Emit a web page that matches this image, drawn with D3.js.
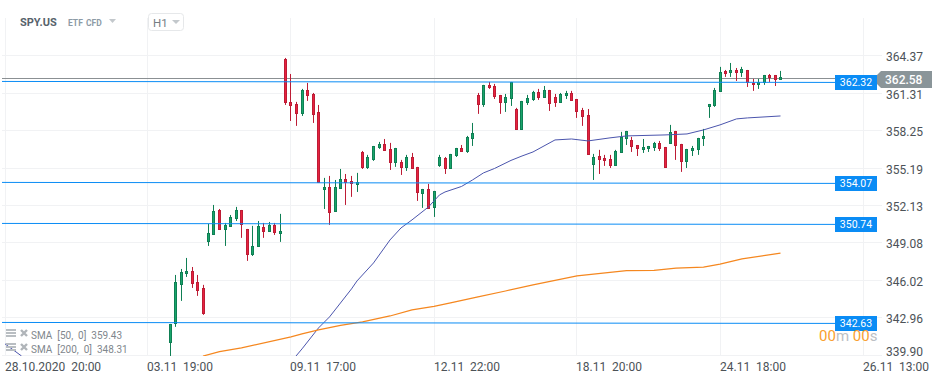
<!DOCTYPE html>
<html>
<head>
<meta charset="utf-8">
<script src="https://cdn.jsdelivr.net/npm/d3@7"></script>
<style>
    body { margin: 0; background: #fff; }
    svg { display: block; font-family: Roboto, sans-serif; }
</style>
</head>
<body>
<div id="chart"></div>
<script>
// first candle sits on bar 30 of the time axis
const firstBar = 30;
const opens = [340.98,342.53,345.72,346.61,346.86,345.96,345.47,349.23,349.80,351.84,350.21,350.45,351.11,351.84,350.29,348.17,348.82,350.45,350.05,350.62,349.88,
    364.18,360.67,360.50,359.69,361.65,361.32,359.85,353.48,353.72,351.68,353.56,354.38,354.21,353.89,356.58,355.27,355.93,356.91,357.24,356.83,355.68,355.76,355.27,356.17,355.36,353.15,353.56,352.01,
    355.44,356.09,355.19,356.25,356.91,356.58,357.64,361.24,360.42,362.06,361.97,361.24,360.59,360.91,360.09,358.38,360.59,360.83,361.48,360.99,361.65,361.08,360.59,361.16,361.40,360.91,360.01,359.60,
    355.52,356.25,356.09,356.01,355.44,356.50,357.64,357.56,357.15,356.75,356.83,356.91,357.32,356.99,357.24,358.30,357.24,355.76,356.66,356.75,357.64,360.26,360.34,361.48,
    363.20,363.04,363.28,363.04,363.28,362.22,362.06,362.22,362.87,362.87,362.46];
const highs = [342.53,346.53,347.02,347.92,347.18,346.53,345.72,350.70,352.25,351.92,350.78,351.43,352.09,351.84,350.29,350.54,350.94,350.78,350.86,350.78,351.52,
    364.26,362.95,360.67,361.73,362.22,361.40,360.42,354.46,354.62,354.29,355.19,354.78,354.62,354.87,356.66,356.34,357.07,357.40,357.64,357.32,356.91,355.93,356.34,356.50,355.36,353.56,353.97,353.40,
    356.34,356.17,356.42,356.91,357.15,357.89,358.95,361.40,362.06,362.30,362.14,361.24,361.32,362.30,360.18,360.75,361.24,361.57,361.73,361.97,361.65,361.32,361.40,361.57,361.57,360.91,360.18,360.09,
    356.42,356.75,356.34,356.34,356.75,358.22,358.30,357.81,357.15,357.64,357.07,357.40,357.48,356.99,358.79,358.30,357.24,356.83,357.07,357.73,358.46,360.50,361.81,363.53,
    363.28,363.85,363.44,363.53,363.28,362.55,362.55,362.87,362.95,362.87,363.20];
const lows = [339.91,342.29,344.41,346.37,345.47,344.82,343.27,348.90,349.80,350.21,348.90,350.45,350.94,349.56,347.68,348.08,348.82,349.56,350.05,349.80,349.23,
    360.42,359.11,358.71,359.52,360.75,358.95,354.05,351.92,350.62,351.68,353.56,352.25,352.91,353.31,355.19,355.19,355.85,356.83,356.66,355.11,355.36,354.70,355.03,355.19,352.58,352.01,351.92,351.27,
    355.36,354.78,355.19,356.17,356.58,356.50,357.07,359.69,360.26,361.73,360.91,359.69,359.85,360.34,358.38,358.38,360.42,360.75,360.83,360.99,359.93,360.26,360.59,360.91,360.75,359.36,358.71,356.34,
    354.29,354.78,355.44,355.27,355.44,356.50,357.15,356.58,356.25,356.50,356.58,356.66,356.66,355.27,357.24,355.93,354.95,355.27,356.25,356.34,357.07,359.36,360.26,361.48,
    362.71,362.71,362.38,362.71,361.89,361.57,361.73,362.06,362.30,361.97,362.46];
const closes = [342.53,345.96,346.78,346.86,345.80,345.22,343.35,349.96,351.76,350.21,350.62,351.27,351.84,350.62,348.17,348.90,350.54,350.05,350.62,349.96,350.13,
    360.59,360.34,359.69,361.65,361.16,359.60,354.05,353.72,351.60,353.72,354.38,354.05,353.97,354.13,355.27,356.17,357.07,357.24,356.66,355.68,356.91,355.27,356.17,355.19,353.23,353.56,351.92,353.40,
    356.17,355.19,356.42,356.91,356.58,357.81,358.13,360.42,362.06,361.81,361.08,360.59,361.08,362.30,358.38,360.75,360.99,361.48,360.99,361.65,360.50,360.59,361.32,361.40,360.75,359.85,359.44,356.34,
    356.17,355.93,355.85,355.44,356.66,357.81,358.30,356.99,356.83,356.99,357.07,357.32,356.83,355.27,358.22,357.07,355.76,356.83,356.91,357.73,357.89,360.50,361.65,363.12,
    362.95,363.28,363.04,363.36,362.22,362.06,362.30,362.87,362.63,362.46,362.71];

// moving averages, read at a few bars only; between bars 3 and 54 the SMA50 runs below the plot
const sma50Bars = [0,3,10,45,52,54,57,59,60,63,64,67,70,72,74,77,79,80,83,85,87,89,92,94,96,98,100,103,106,110,113,120,124,127,130,133,135,138,141];
const sma50Values = [340.90,339.91,335,335,339.42,340.49,342.20,343.10,343.67,345.39,346.04,347.51,349.39,350.37,351.03,352.09,353.07,353.31,353.76,354.29,354.87,355.23,355.89,356.25,356.58,357.07,357.56,357.64,357.48,357.73,357.89,357.97,358.05,358.38,358.79,359.28,359.36,359.44,359.52];
const sma200Bars = [36,39,43,52,54,57,61,65,70,74,78,81,86,91,96,104,113,118,122,127,130,134,141];
const sma200Values = [339.90,340.27,340.57,341.47,341.71,342.04,342.41,342.69,343.18,343.67,343.96,344.25,344.74,345.22,345.72,346.45,346.88,346.91,347.08,347.17,347.41,347.84,348.31];

const priceTicks = [364.37,361.31,358.25,355.19,352.13,349.08,346.02,342.96,339.90];
const timeBars = [0,26,52,78,104,130,156];
const timeLabels = ['28.10.2020  20:00','03.11  19:00','09.11  17:00','12.11  22:00','18.11  20:00','24.11  18:00','26.11  13:00'];

// blue levels are very slightly tilted, the label is the printed value
const levelLabels = [362.32,354.07,350.74,342.63];
const levelStart = [362.34,354.09,350.74,342.65];
const levelEnd = [362.26,354.01,350.66,342.57];
const lastPrice = 362.58;

const legendLabels = ['SMA  [50,  0]  359.43','SMA  [200,  0]  348.31'];

const width = 945, height = 381;
const blue = '#0a8cf5', gridColor = '#f1f2f4', axisText = '#4c5257';

const x = d3.scaleLinear().domain([0, 156]).range([5, 863]);
const y = d3.scaleLinear().domain([339.90, 364.37]).range([356.1, 56.6]);

const svg = d3.select('#chart').append('svg')
    .attr('width', width)
    .attr('height', height);

svg.append('clipPath').attr('id', 'plot')
    .append('rect').attr('x', 0).attr('y', 0).attr('width', 880).attr('height', 356);

// Y axis, gridlines come from the ticks
const yAxis = svg.append('g')
    .attr('transform', 'translate(882,0)')
    .call(d3.axisRight(y).tickValues(priceTicks).tickFormat(d3.format('.2f')).tickSize(-880).tickPadding(4));
yAxis.select('.domain').remove();
yAxis.selectAll('.tick').attr('transform', d => `translate(0,${Math.round(y(d) - 1.3) + 0.5})`);
yAxis.selectAll('line').attr('stroke', gridColor);
yAxis.selectAll('text')
    .attr('font-size', 12).attr('font-family', 'Roboto').attr('fill', axisText).attr('dy', '0.42em')
    .attr('y', d => d === 339.90 ? -5 : 0); // bottom label is pushed up above the time axis

// X axis
const xAxis = svg.append('g')
    .attr('transform', 'translate(0,356)')
    .call(d3.axisBottom(x).tickValues(timeBars).tickFormat((d, i) => timeLabels[i]).tickSize(-338).tickPadding(6));
xAxis.select('.domain').remove();
xAxis.selectAll('.tick').attr('transform', d => `translate(${Math.floor(x(d)) + 0.5},0)`);
xAxis.selectAll('line').attr('stroke', gridColor);
xAxis.selectAll('text')
    .attr('font-size', 12).attr('font-family', 'Roboto').attr('fill', axisText)
    .attr('text-anchor', 'start').attr('x', -0.5).style('white-space', 'pre');

const plot = svg.append('g').attr('clip-path', 'url(#plot)');

// last price line
plot.append('line')
    .attr('x1', 2).attr('x2', 877)
    .attr('y1', y(lastPrice)).attr('y2', y(lastPrice))
    .attr('stroke', '#8b9093').attr('stroke-width', 1);

// candles
const candles = opens.map((o, i) => ({ bar: firstBar + i, o: o, h: highs[i], l: lows[i], c: closes[i] }));
const barX = (d) => Math.floor(x(d.bar));
const candle = plot.selectAll('g.candle')
    .data(candles)
    .join('g')
    .attr('class', 'candle');

candle.append('line')
    .attr('x1', d => barX(d) + 0.5).attr('x2', d => barX(d) + 0.5)
    .attr('y1', d => y(d.h)).attr('y2', d => y(d.l))
    .attr('stroke', d => d.c >= d.o ? '#0f7f54' : '#bd1c35');

candle.append('rect')
    .attr('x', d => barX(d) - 0.5)
    .attr('width', 2)
    .attr('y', d => Math.round(y(Math.max(d.o, d.c))) + 0.5)
    .attr('height', d => Math.max(1, Math.round(y(Math.min(d.o, d.c))) - Math.round(y(Math.max(d.o, d.c))) - 1))
    .attr('fill', d => d.c >= d.o ? '#19a56b' : '#e8223f')
    .attr('stroke', d => d.c >= d.o ? '#0f7f54' : '#bd1c35');

// moving averages
const maLine = d3.line().x(d => x(d[0])).y(d => y(d[1]));
plot.append('path')
    .attr('d', maLine(sma50Bars.map((b, i) => [b, sma50Values[i]])))
    .attr('fill', 'none').attr('stroke', '#4b55ad').attr('stroke-width', 1);
plot.append('path')
    .attr('d', maLine(sma200Bars.map((b, i) => [b, sma200Values[i]])))
    .attr('fill', 'none').attr('stroke', '#f5871f').attr('stroke-width', 1.2);

// blue levels with their tags
levelLabels.forEach((label, i) => {
    svg.append('line')
        .attr('x1', 2).attr('x2', 836)
        .attr('y1', y(levelStart[i])).attr('y2', y(levelEnd[i]))
        .attr('stroke', blue).attr('stroke-width', 1);
    const tagY = Math.round(y(levelEnd[i]));
    svg.append('rect')
        .attr('x', 835).attr('y', tagY - 7).attr('width', 42).attr('height', 15)
        .attr('fill', blue);
    svg.append('text')
        .attr('x', 856).attr('y', tagY + 4)
        .attr('text-anchor', 'middle').attr('font-size', 10.5).attr('fill', '#fff')
        .text(label.toFixed(2));
});

// last price tag
const tagTop = Math.round(y(lastPrice)) - 8;
svg.append('path')
    .attr('d', d3.line()([[881, tagTop], [932, tagTop], [932, tagTop + 17], [881, tagTop + 17], [877, tagTop + 13], [877, tagTop + 4]]))
    .attr('fill', '#8a9599');
svg.append('text')
    .attr('x', 885).attr('y', tagTop + 13)
    .attr('font-size', 12).attr('font-weight', 500).attr('fill', '#fff')
    .text(lastPrice.toFixed(2));

// countdown
const countdown = svg.append('text')
    .attr('x', 819).attr('y', 341)
    .attr('font-size', 15);
[['00', '#f9a02f'], ['m ', '#bcc0c4'], ['00', '#f9a02f'], ['s', '#bcc0c4']].forEach((p) => {
    countdown.append('tspan').attr('fill', p[1]).style('white-space', 'pre').text(p[0]);
});

// header
svg.append('text').attr('x', 20).attr('y', 26)
    .attr('font-size', 11).attr('font-weight', 700).attr('fill', '#57626b').text('SPY.US');
svg.append('text').attr('x', 68).attr('y', 25.5)
    .attr('font-size', 8.5).attr('font-weight', 700).attr('fill', '#8d9ba6').text('ETF');
svg.append('text').attr('x', 86).attr('y', 25.5)
    .attr('font-size', 8.5).attr('font-weight', 700).attr('fill', '#8d9ba6').text('CFD');
svg.append('path').attr('d', 'M109,19H116L112.5,23Z').attr('fill', '#c3c8cc');
svg.append('rect')
    .attr('x', 148.5).attr('y', 13.5).attr('width', 35).attr('height', 17).attr('rx', 3)
    .attr('fill', '#fff').attr('stroke', '#e6e8ea');
svg.append('text').attr('x', 153).attr('y', 26.5)
    .attr('font-size', 11.5).attr('fill', '#757d83').text('H1');
svg.append('path').attr('d', 'M172,20H180L176,24Z').attr('fill', '#c3c8cc');

// indicator legend
legendLabels.forEach((label, i) => {
    const top = 329 + i * 14;
    const g = svg.append('g').attr('transform', `translate(6,${top})`);
    [0, 3, 6].forEach((dy) => {
        g.append('rect').attr('x', 0).attr('y', dy).attr('width', 10).attr('height', 2).attr('fill', '#b9bec2');
    });
    g.append('path').attr('d', 'M15,1L21,7M21,1L15,7')
        .attr('stroke', '#b0b5b9').attr('stroke-width', 2.4);
    svg.append('text')
        .attr('x', 31).attr('y', top + 10)
        .attr('font-size', 10).attr('fill', '#7f878d').style('white-space', 'pre')
        .text(label);
});
</script>
</body>
</html>
